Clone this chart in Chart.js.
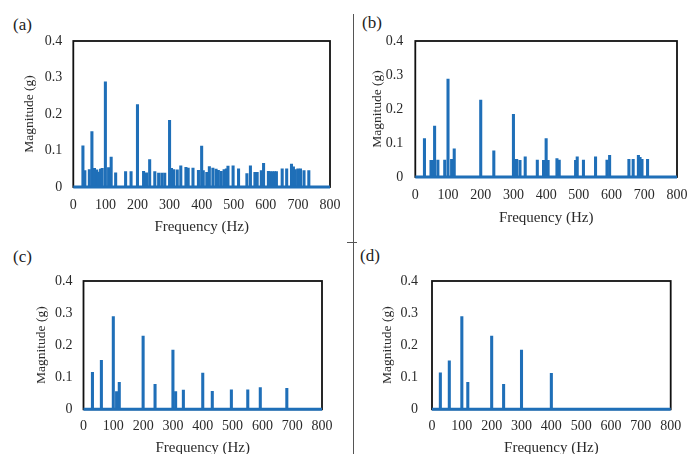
<!DOCTYPE html>
<html><head><meta charset="utf-8">
<script src="https://cdn.jsdelivr.net/npm/chart.js@4.4.1/dist/chart.umd.min.js"></script>
<style>
html,body{margin:0;padding:0;background:#fff;}
#wrap{position:relative;width:700px;height:454px;overflow:hidden;background:#fff;}
canvas.c{position:absolute;left:0;top:0;}
.lbl{position:absolute;font-family:"Liberation Serif","Times New Roman",serif;font-size:17px;color:#222;line-height:1;}
.sep{position:absolute;background:#555;}
</style></head><body>
<div id="wrap">
  <div class="sep" style="left:353px;top:14px;width:1px;height:440px"></div>
  <div class="sep" style="left:347px;top:242px;width:10px;height:1px"></div>
  <div class="lbl" style="left:13px;top:16px">(a)</div>
  <div class="lbl" style="left:362px;top:14px">(b)</div>
  <div class="lbl" style="left:13px;top:248px">(c)</div>
  <div class="lbl" style="left:360px;top:247px">(d)</div>
  <canvas id="ca" class="c"></canvas>
  <canvas id="cb" class="c"></canvas>
  <canvas id="cc" class="c"></canvas>
  <canvas id="cd" class="c"></canvas>
</div>
<script>
// ---- data (frequency in Hz, magnitude in g) ----
const xTicks = [0, 100, 200, 300, 400, 500, 600, 700, 800];
const yTicks = [0, 0.1, 0.2, 0.3, 0.4];
const xTitle = 'Frequency (Hz)';
const yTitle = 'Magnitude (g)';

const aFreq = [30, 36, 50, 58, 66, 73, 78, 85, 90, 100, 110, 118, 132, 163, 180, 200, 219, 228, 238, 254, 266, 276, 285, 300, 306, 313, 324, 335, 351, 358, 373, 390, 400, 405, 416, 424, 435, 445, 452, 461, 470, 477, 482, 498, 515, 541, 552, 566, 573, 586, 593, 608, 613, 620, 627, 633, 651, 665, 680, 686, 692, 700, 708, 719, 734];
const aMag  = [0.113, 0.045, 0.048, 0.152, 0.051, 0.047, 0.041, 0.049, 0.051, 0.288, 0.053, 0.082, 0.039, 0.042, 0.042, 0.226, 0.043, 0.039, 0.075, 0.042, 0.038, 0.038, 0.038, 0.183, 0.051, 0.048, 0.047, 0.058, 0.054, 0.052, 0.052, 0.046, 0.112, 0.045, 0.040, 0.056, 0.052, 0.049, 0.046, 0.043, 0.048, 0.050, 0.057, 0.058, 0.050, 0.037, 0.058, 0.040, 0.040, 0.045, 0.065, 0.043, 0.042, 0.042, 0.042, 0.042, 0.050, 0.050, 0.063, 0.055, 0.048, 0.050, 0.050, 0.045, 0.045];

const bFreq = [28, 48, 53, 59, 69, 90, 100, 111, 119, 200, 240, 300, 306, 310, 320, 336, 373, 392, 400, 406, 433, 440, 490, 495, 514, 551, 586, 594, 653, 666, 682, 687, 693, 710];
const bMag  = [0.113, 0.049, 0.049, 0.150, 0.050, 0.050, 0.288, 0.052, 0.083, 0.226, 0.077, 0.184, 0.052, 0.052, 0.049, 0.059, 0.050, 0.049, 0.113, 0.049, 0.054, 0.050, 0.049, 0.059, 0.050, 0.059, 0.050, 0.064, 0.052, 0.052, 0.064, 0.058, 0.052, 0.052];

const cFreq = [30, 60, 100, 111, 120, 200, 240, 300, 309, 335, 400, 432, 496, 551, 593, 682];
const cMag  = [0.115, 0.153, 0.289, 0.055, 0.084, 0.228, 0.078, 0.185, 0.055, 0.060, 0.113, 0.056, 0.061, 0.061, 0.068, 0.065];

const dFreq = [28, 58, 100, 120, 200, 240, 300, 400];
const dMag  = [0.114, 0.151, 0.289, 0.084, 0.228, 0.078, 0.185, 0.112];

// ---- styling / layout ----
const BLUE = '#1f6fb8';
const W = 700, H = 480;
const FONT = "'Liberation Serif','Times New Roman',serif";
const TICK_SIZE = 14, YT_SIZE = 13.5, XT_SIZE = 15;

const framePlugin = {
  id: 'frame',
  beforeDatasetsDraw(chart) {
    const {ctx, chartArea: a} = chart;
    ctx.save();
    ctx.strokeStyle = '#111';
    ctx.lineWidth = 1.8;
    ctx.strokeRect(a.left, a.top, a.right - a.left, a.bottom - a.top);
    ctx.restore();
  }
};

function makePanel(id, freqs, mags, g) {
  const cv = document.getElementById(id);
  cv.width = W; cv.height = H;
  cv.style.width = W + 'px'; cv.style.height = H + 'px';
  const pl = g.yTitleX - YT_SIZE * 1.2 / 2;
  const pb = H - g.xTitleY - XT_SIZE * 1.2 / 2;
  const spikes = freqs.map((f, i) => ({x: f, y: mags[i]}));
  const base = [{x: xTicks[0], y: 0}, {x: xTicks[xTicks.length - 1], y: 0}];
  new Chart(cv, {
    type: 'bar',
    data: {
      datasets: [
        {type: 'bar', data: spikes, backgroundColor: BLUE, borderWidth: 0, barThickness: 2.4, order: 2},
        {type: 'line', data: base, borderColor: BLUE, borderWidth: 3, pointRadius: 0, clip: false, order: 1}
      ]
    },
    options: {
      responsive: false, animation: false, devicePixelRatio: 1,
      layout: {padding: {left: pl, right: W - g.right, top: g.top, bottom: pb}},
      plugins: {legend: {display: false}, tooltip: {enabled: false}},
      scales: {
        x: {
          type: 'linear', min: xTicks[0], max: xTicks[xTicks.length - 1], offset: false,
          grid: {display: false, drawTicks: false, tickLength: 0},
          border: {display: false},
          afterBuildTicks: s => { s.ticks = xTicks.map(v => ({value: v})); },
          afterFit: s => { s.height = (H - pb) - g.bottom; },
          ticks: {autoSkip: false, maxRotation: 0, padding: g.xTickPad, color: '#2a2a2a', font: {family: FONT, size: TICK_SIZE}},
          title: {display: true, text: xTitle, color: '#2a2a2a', padding: {top: 0, bottom: 0}, font: {family: FONT, size: XT_SIZE}}
        },
        y: {
          type: 'linear', min: yTicks[0], max: yTicks[yTicks.length - 1],
          grid: {display: false, drawTicks: false, tickLength: 0},
          border: {display: false},
          afterBuildTicks: s => { s.ticks = yTicks.map(v => ({value: v})); },
          afterFit: s => { s.width = g.left - pl; },
          ticks: {padding: g.yTickPad, color: '#2a2a2a', font: {family: FONT, size: TICK_SIZE}, callback: v => String(v)},
          title: {display: true, text: yTitle, color: '#2a2a2a', padding: {top: 0, bottom: 0}, font: {family: FONT, size: YT_SIZE}}
        }
      }
    },
    plugins: [framePlugin]
  });
}

makePanel('ca', aFreq, aMag, {left: 73.3, right: 330, top: 41, bottom: 187, yTitleX: 29, yTickPad: 11, xTickPad: 10, xTitleY: 227});
makePanel('cb', bFreq, bMag, {left: 415.3, right: 677, top: 41, bottom: 177, yTitleX: 377, yTickPad: 12, xTickPad: 10, xTitleY: 218});
makePanel('cc', cFreq, cMag, {left: 83.5, right: 322, top: 281, bottom: 409.3, yTitleX: 41, yTickPad: 11, xTickPad: 9, xTitleY: 448});
makePanel('cd', dFreq, dMag, {left: 432, right: 670.7, top: 281, bottom: 409.3, yTitleX: 387.5, yTickPad: 14, xTickPad: 9, xTitleY: 448});
</script>
</body></html>
